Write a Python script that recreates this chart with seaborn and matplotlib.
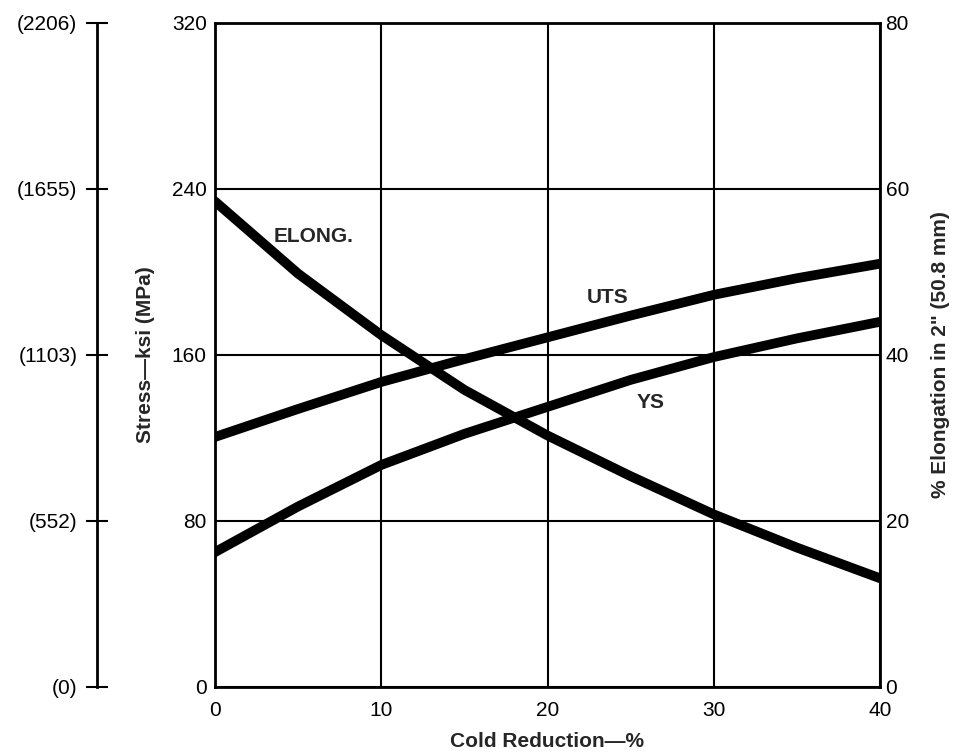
import matplotlib
matplotlib.use("Agg")
import matplotlib.pyplot as plt
import seaborn as sns
import pandas as pd

# valores
reducao = [0, 5, 10, 15, 20, 25, 30, 35, 40]
uts_ksi = [120.5, 134, 147, 158, 168.5, 179, 189, 197, 204]
ys_ksi = [65, 87, 107, 122, 135, 148, 159, 168, 176]
alongamento = [58.5, 49.8, 42.4, 35.8, 30.3, 25.4, 20.8, 16.8, 13.1]

ksi_ticks = [0, 80, 160, 240, 320]
mpa_labels = ["(0)", "(552)", "(1103)", "(1655)", "(2206)"]
elong_ticks = [0, 20, 40, 60, 80]
x_ticks = [0, 10, 20, 30, 40]

df = pd.DataFrame({"reducao": reducao, "UTS": uts_ksi, "YS": ys_ksi, "ELONG": alongamento})

sns.set_theme(style="white")
plt.rcParams["font.family"] = ["Liberation Sans", "DejaVu Sans"]

fig = plt.figure(figsize=(9.61, 7.54), dpi=100)
ax = fig.add_axes([215 / 961, 1 - 687 / 754, 665 / 961, 664 / 754])

sns.lineplot(data=df, x="reducao", y="UTS", ax=ax, color="black", linewidth=7)
sns.lineplot(data=df, x="reducao", y="YS", ax=ax, color="black", linewidth=7)
ax.set_xlim(0, 40)
ax.set_ylim(0, 320)
ax.set_xticks(x_ticks)
ax.set_yticks(ksi_ticks)
ax.grid(True, color="black", linewidth=1.5)
ax.tick_params(axis="y", length=0, labelsize=15, colors="black", pad=6)
ax.tick_params(axis="x", length=0, labelsize=15, colors="black", pad=10)
for s in ax.spines.values():
    s.set_color("black")
    s.set_linewidth(2)
ax.set_xlabel("Cold Reduction\u2014%", fontsize=15, fontweight="bold", labelpad=9)
ax.set_ylabel("Stress\u2014ksi (MPa)", fontsize=15, fontweight="bold", labelpad=12)

# eixo da direita: alongamento
ax2 = ax.twinx()
sns.lineplot(data=df, x="reducao", y="ELONG", ax=ax2, color="black", linewidth=7)
ax2.set_ylim(0, 80)
ax2.set_yticks(elong_ticks)
ax2.tick_params(axis="y", length=0, labelsize=15, colors="black", pad=4)
ax2.set_ylabel("% Elongation in 2\" (50.8 mm)", fontsize=15, fontweight="bold", labelpad=16)
for s in ax2.spines.values():
    s.set_visible(False)

# eixo MPa separado a esquerda
ax3 = ax.twinx()
ax3.set_ylim(0, 320)
ax3.yaxis.set_ticks_position("left")
ax3.set_yticks(ksi_ticks)
ax3.set_yticklabels(mpa_labels)
ax3.spines["left"].set_position(("outward", 85))
ax3.spines["left"].set_linewidth(2)
ax3.spines["left"].set_color("black")
for k in ["right", "top", "bottom"]:
    ax3.spines[k].set_visible(False)
ax3.tick_params(axis="y", direction="inout", length=16, width=1.5, color="black",
                labelsize=15, labelcolor="black", pad=6)

ax.text(5.9, 217, "ELONG.", fontsize=15, fontweight="bold", ha="center", va="center")
ax.text(23.6, 187.5, "UTS", fontsize=15, fontweight="bold", ha="center", va="center")
ax.text(26.2, 137, "YS", fontsize=15, fontweight="bold", ha="center", va="center")

fig.savefig("out.png", dpi=100, facecolor="white")
